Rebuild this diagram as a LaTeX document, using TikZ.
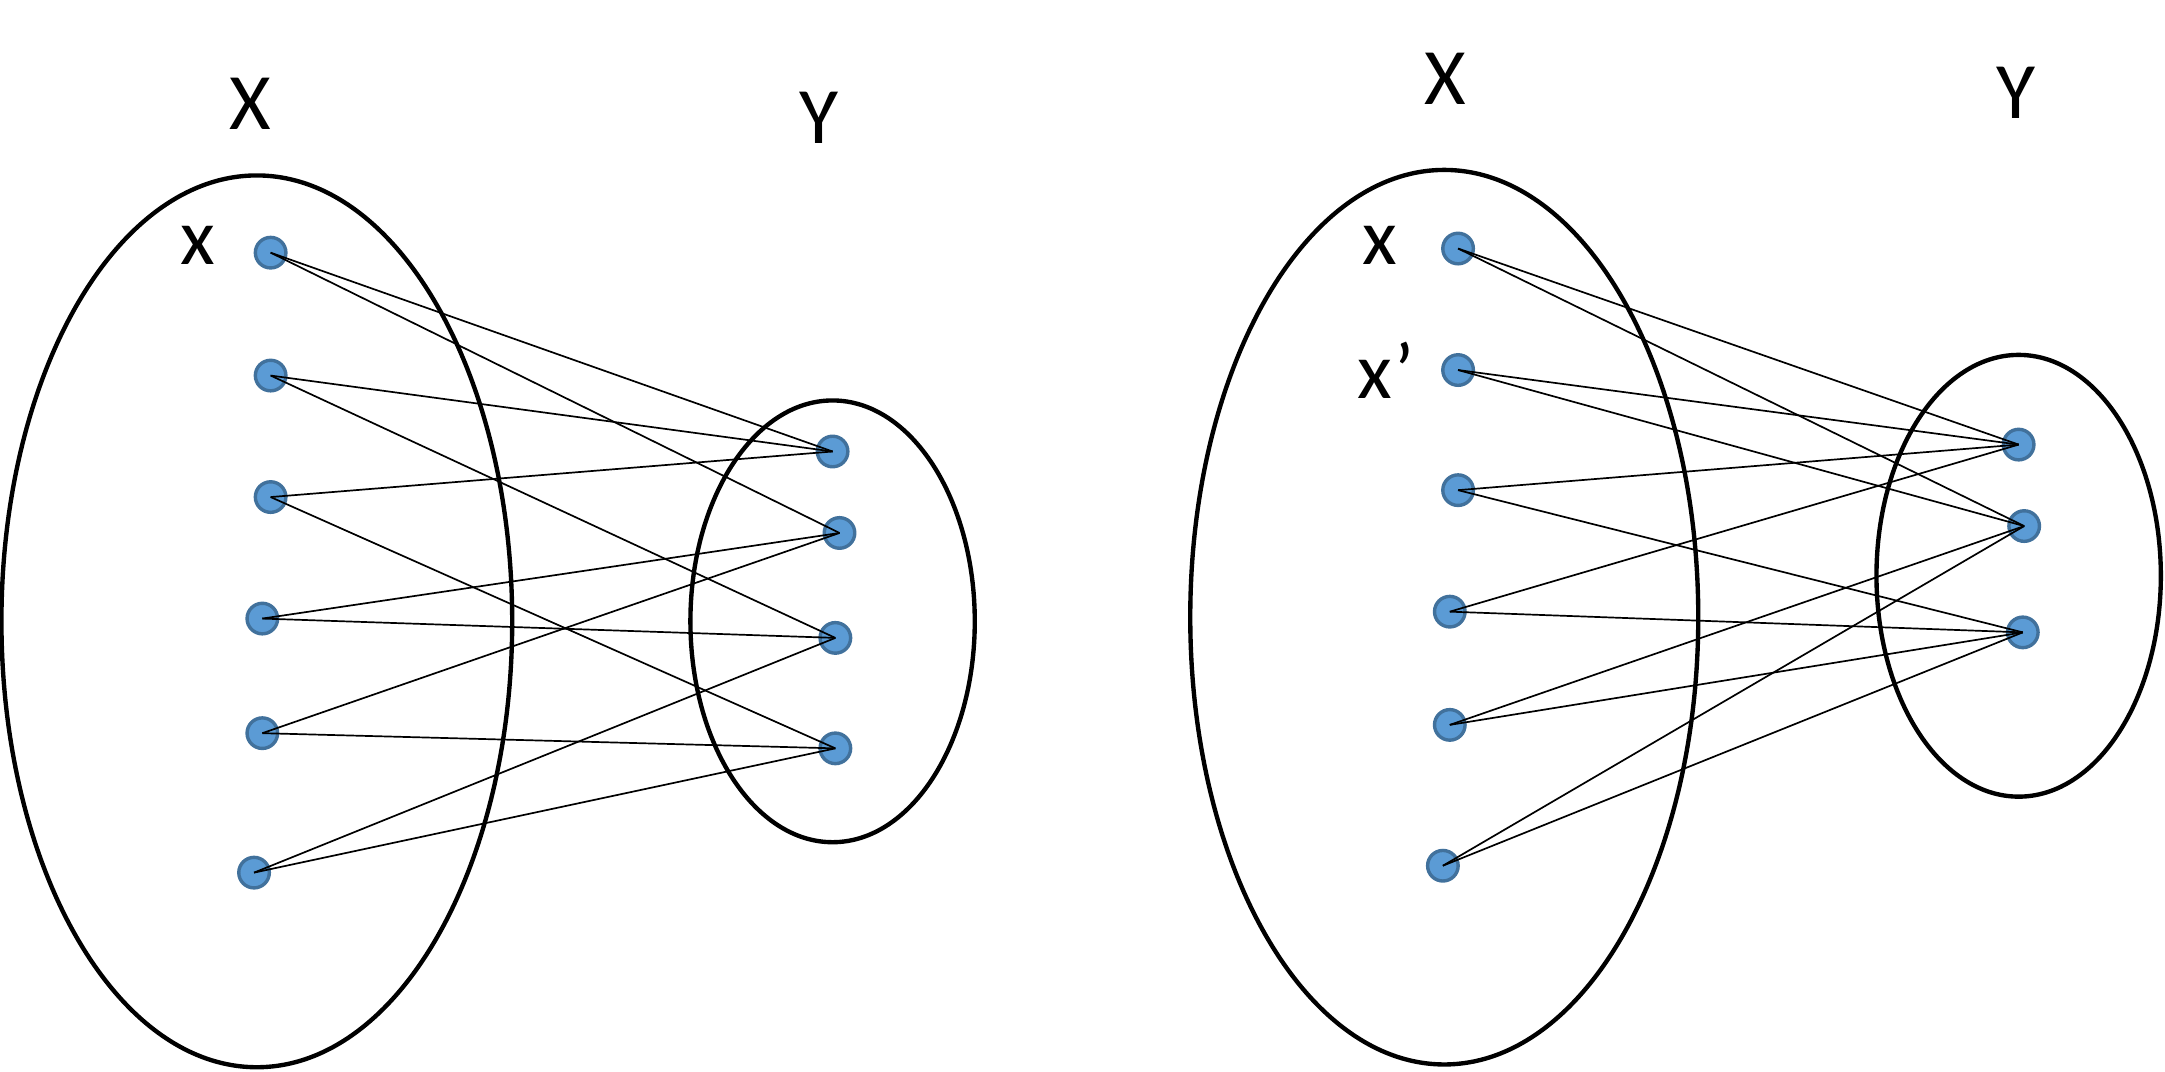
\documentclass[tikz,border=0pt]{standalone}
\usepackage{fontspec}
\setmainfont{Carlito}
\definecolor{dotfill}{HTML}{5B9BD5}
\definecolor{dotdraw}{HTML}{41719C}
\tikzset{
  setline/.style={line width=1.8pt},
  elem/.style={circle, fill=dotfill, draw=dotdraw, line width=1.4pt, minimum size=12.6pt, inner sep=0pt},
  maplink/.style={line width=0.7pt},
  setname/.style={font=\fontsize{33}{36}\selectfont, inner sep=0pt}
}
\begin{document}
\begin{tikzpicture}[x=0.02cm, y=-0.02cm]
\useasboundingbox (0,0) rectangle (1568,776);
\draw[setline] (186,450) ellipse [x radius=3.70cm, y radius=6.46cm];
\draw[setline] (603,450) ellipse [x radius=2.06cm, y radius=3.20cm];
\draw[setline] (1046,447) ellipse [x radius=3.68cm, y radius=6.48cm];
\draw[setline] (1462,417) ellipse [x radius=2.06cm, y radius=3.20cm];
\node[setname] (lX) at (181,75) {X};
\node[setname] (lY) at (593,85) {Y};
\node[setname] (lx) at (143,178) {x};
\node[setname] (rX) at (1047,57) {X};
\node[setname] (rY) at (1460,67) {Y};
\node[setname] (rx) at (999,178) {x};
\node[setname] (rxp) at (1004,268) {x’};
\foreach \n/\px/\py in {1/196/183, 2/196/272, 3/196/360, 4/190/448, 5/190/531, 6/184/632}
  \node[elem] (xa\n) at (\px,\py) {};
\foreach \n/\px/\py in {1/603/327, 2/608/386, 3/605/462, 4/605/542}
  \node[elem] (ya\n) at (\px,\py) {};
\foreach \n/\px/\py in {1/1056/180, 2/1056/268, 3/1056/355, 4/1050/443, 5/1050/525, 6/1045/627}
  \node[elem] (xb\n) at (\px,\py) {};
\foreach \n/\px/\py in {1/1462/322, 2/1466/381, 3/1465/458}
  \node[elem] (yb\n) at (\px,\py) {};
\foreach \a/\b in {1/1, 1/2, 2/1, 2/3, 3/1, 3/4, 4/2, 4/3, 5/2, 5/4, 6/3, 6/4}
  \draw[maplink] (xa\a.center) -- (ya\b.center);
\foreach \a/\b in {1/1, 1/2, 2/1, 2/2, 3/1, 3/3, 4/1, 4/3, 5/2, 5/3, 6/2, 6/3}
  \draw[maplink] (xb\a.center) -- (yb\b.center);
\end{tikzpicture}
\end{document}
